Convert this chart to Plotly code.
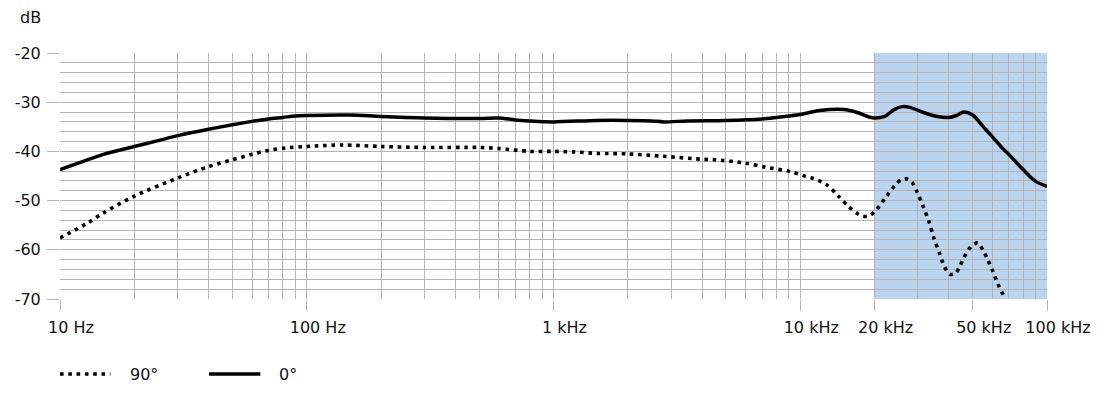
import plotly.graph_objects as go

# 0° response (solid)
f0 = [10, 12, 15, 20, 25, 30, 40, 50, 60, 70, 80, 90, 100, 150, 200, 300, 500, 600, 700, 800,
      1000, 1500, 2000, 2500, 2800, 3500, 5000, 7000, 8000, 9000, 10000, 12000, 15000, 17000,
      19000, 20000, 22000, 24000, 26000, 28000, 32000, 36000, 40000, 43000, 46000, 50000,
      55000, 60000, 65000, 70000, 80000, 90000, 100000]
db0 = [-43.7, -42.3, -40.6, -39.0, -37.8, -36.8, -35.5, -34.6, -33.9, -33.4, -33.1, -32.8, -32.7,
       -32.6, -32.9, -33.2, -33.3, -33.2, -33.6, -33.8, -34.0, -33.7, -33.7, -33.8, -34.0, -33.8,
       -33.7, -33.4, -33.1, -32.8, -32.5, -31.7, -31.5, -32.1, -33.0, -33.2, -32.9, -31.5, -30.9,
       -31.1, -32.2, -32.9, -33.1, -32.7, -32.0, -32.6, -34.9, -37.0, -39.0, -40.6, -43.7, -46.1,
       -47.1]

# 90° response (dotted)
f90 = [10, 13, 15, 20, 30, 40, 50, 60, 70, 82, 100, 140, 200, 300, 500, 600, 800, 1000, 1200,
       1500, 2000, 2800, 4000, 4500, 6000, 7200, 9100, 10400, 11300, 12800, 14300, 15700, 16900,
       18000, 19200, 20400, 22400, 24200, 25600, 27100, 28500, 29900, 31500, 33200, 34800, 36600,
       38300, 40400, 42700, 44400, 46000, 49300, 52400, 54900, 57500, 60300, 63300, 66300, 67500]
db90 = [-57.6, -54.5, -52.5, -49.1, -45.4, -43.1, -41.7, -40.6, -39.8, -39.3, -39.0, -38.7, -39.0,
        -39.2, -39.2, -39.4, -40.0, -40.0, -40.1, -40.4, -40.5, -41.0, -41.6, -41.7, -42.4, -43.2,
        -44.1, -45.0, -45.5, -46.8, -49.1, -51.2, -52.5, -53.2, -53.0, -51.8, -49.1, -46.9, -45.8,
        -45.6, -46.4, -48.5, -51.2, -54.2, -57.6, -60.6, -63.3, -65.0, -64.7, -63.3, -61.6, -59.3,
        -58.6, -60.0, -62.0, -64.3, -67.0, -69.1, -70.0]

xtick_vals = [10, 100, 1000, 10000, 20000, 50000, 100000]
xtick_text = ["10 Hz", "100 Hz", "1 kHz", "10 kHz", "20 kHz", "50 kHz", "100 kHz"]
ytick_vals = [-70, -60, -50, -40, -30, -20]
ytick_text = ["-70", "-60", "-50", "-40", "-30", "-20"]
legend_names = ["90°", "0°"]

FONT = "DejaVu Sans"
FS = 16
GRID = "#b3b4bb"
DOT = "3.6px,4.7px"

fig = go.Figure()
fig.add_trace(go.Scatter(x=f90, y=db90, mode="lines", name=legend_names[0],
                         line=dict(color="black", width=3.6, dash=DOT, shape="spline", smoothing=0.8),
                         showlegend=False))
fig.add_trace(go.Scatter(x=f0, y=db0, mode="lines", name=legend_names[1],
                         line=dict(color="black", width=3.5, shape="spline", smoothing=0.8),
                         showlegend=False))

minor_x = [d * 10 ** e for e in range(1, 5) for d in range(2, 10)]

fig.add_shape(type="rect", xref="x", yref="paper", x0=20000, x1=100000, y0=0, y1=1,
              fillcolor="#b9d4ec", line=dict(width=0), layer="below")

# manual legend
fig.add_shape(type="line", xref="paper", yref="paper", x0=0.0, x1=0.051, y0=-0.305, y1=-0.305,
              line=dict(color="black", width=3.6, dash=DOT))
fig.add_shape(type="line", xref="paper", yref="paper", x0=0.151, x1=0.203, y0=-0.305, y1=-0.305,
              line=dict(color="black", width=3.5))
fig.add_annotation(x=0.069, y=-0.305, xref="paper", yref="paper", text=legend_names[0],
                   showarrow=False, xanchor="left", yanchor="middle", font=dict(family=FONT, size=FS, color="#111"))
fig.add_annotation(x=0.220, y=-0.305, xref="paper", yref="paper", text=legend_names[1],
                   showarrow=False, xanchor="left", yanchor="middle", font=dict(family=FONT, size=FS, color="#111"))
fig.add_annotation(x=0, y=1, xref="paper", yref="paper", text="dB", showarrow=False,
                   xanchor="right", yanchor="middle", xshift=-17, yshift=36,
                   font=dict(family=FONT, size=FS, color="#111"))

fig.update_xaxes(type="log", range=[1, 5], tickmode="array", tickvals=xtick_vals, ticktext=xtick_text,
                 ticks="outside", ticklen=11, tickcolor=GRID, tickwidth=1, ticklabelstandoff=3,
                 showgrid=True, gridcolor=GRID, gridwidth=1, ticklabelshift=11, automargin=False,
                 minor=dict(tickmode="array", tickvals=minor_x, showgrid=True, gridcolor=GRID, ticks=""),
                 showline=False, zeroline=False, tickfont=dict(family=FONT, size=FS, color="#111"))
fig.update_yaxes(range=[-70, -20], tickmode="array", tickvals=ytick_vals, ticktext=ytick_text,
                 ticks="outside", ticklen=12, tickcolor=GRID, tickwidth=1, ticklabelstandoff=3,
                 showgrid=True, gridcolor=GRID, gridwidth=1, automargin=False,
                 minor=dict(dtick=2, tick0=-70, showgrid=True, gridcolor=GRID, ticks=""),
                 showline=False, zeroline=False, tickfont=dict(family=FONT, size=FS, color="#111"))

fig.update_layout(width=1107, height=403, margin=dict(l=52, r=68, t=45, b=112),
                  plot_bgcolor="white", paper_bgcolor="white", showlegend=False,
                  font=dict(family=FONT, size=FS, color="#111"))

fig.write_html("out.html")
